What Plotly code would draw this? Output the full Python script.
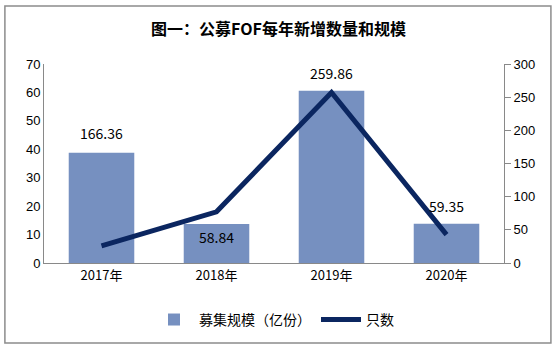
import plotly.graph_objects as go

years = ["2017年", "2018年", "2019年", "2020年"]
scale = [166.36, 58.84, 259.86, 59.35]   # 募集规模（亿份） right axis
count = [6, 18, 60, 10]                  # 只数 left axis
label_shift = [20, -13, 18, 18]

CJK = "Noto Sans CJK SC"

fig = go.Figure()
fig.add_trace(go.Bar(
    x=years, y=scale, name="募集规模（亿份）", yaxis="y",
    marker=dict(color="#7690c0", line=dict(width=0)), width=0.57,
))
fig.add_trace(go.Scatter(
    x=years, y=count, name="只数", yaxis="y2", mode="lines",
    line=dict(color="#0b2660", width=5),
))

for x, v, s in zip(years, scale, label_shift):
    fig.add_annotation(x=x, y=v, xref="x", yref="y", text=f"{v:.2f}",
                       showarrow=False, yshift=s,
                       font=dict(family=CJK, size=14, color="#000"))

fig.update_layout(
    width=557, height=351,
    margin=dict(l=44, r=53, t=64, b=88),
    paper_bgcolor="white", plot_bgcolor="white",
    title=dict(text="<b>图一：公募FOF每年新增数量和规模</b>", x=0.5, xanchor="center",
               y=0.915, yanchor="middle", font=dict(family=CJK, size=16, color="#000")),
    xaxis=dict(showline=True, linecolor="#898989", linewidth=1, ticks="",
               tickfont=dict(family=CJK, size=13, color="#000"), showgrid=False),
    yaxis=dict(side="right", range=[0, 300], dtick=50, showgrid=False,
               showline=True, linecolor="#898989", ticks="outside", ticklen=6,
               tickcolor="#898989", tickfont=dict(family="Liberation Sans", size=13, color="#000"),
               zeroline=False),
    yaxis2=dict(side="left", overlaying="y", range=[0, 70], dtick=10, showgrid=False,
                showline=True, linecolor="#898989", ticks="",
                tickfont=dict(family="Liberation Sans", size=13, color="#000"),
                zeroline=False),
    legend=dict(orientation="h", x=0.5, xanchor="center", y=-0.286, yanchor="middle",
                font=dict(family=CJK, size=14, color="#000"), traceorder="normal",
                itemwidth=40),
    bargap=0.43,
)
fig.add_shape(type="rect", xref="paper", yref="paper", x0=-0.085, x1=1.102, y0=-0.402, y1=1.291,
              line=dict(color="#8c8c8c", width=1.5))
fig.write_html("out.html")
